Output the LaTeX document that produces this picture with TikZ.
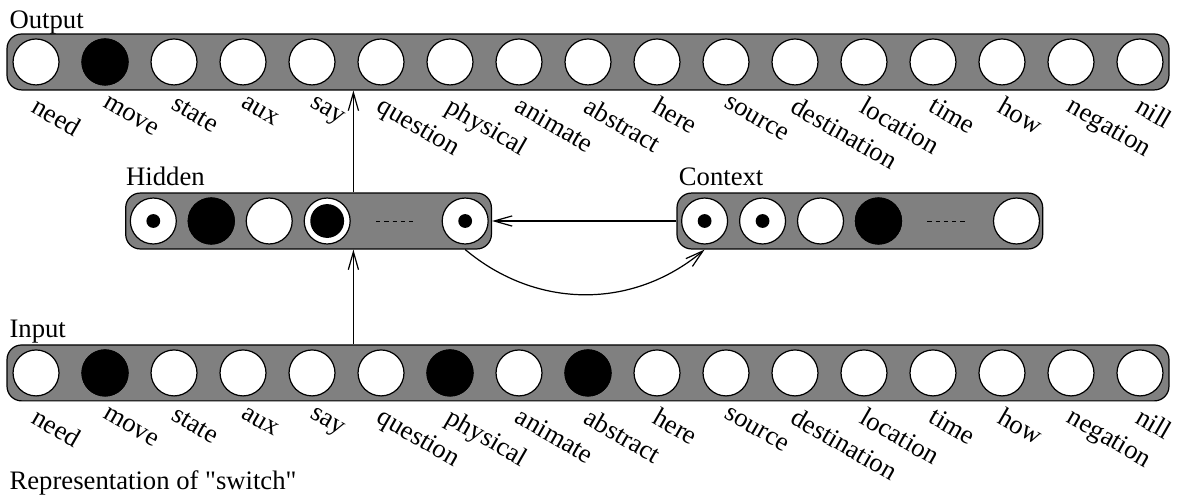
\documentclass[tikz,border=0pt]{standalone}
\usepackage{fontspec}
\setmainfont{Liberation Serif}
\usetikzlibrary{arrows.meta}
\def\words{need,move,state,aux,say,question,physical,animate,abstract,here,source,destination,location,time,how,negation,nill}
\def\QT{\XeTeXglyph\XeTeXcharglyph"22\relax}
\def\DOT#1{\fill (#1) circle (0.1);}
\def\RING#1{\fill (#1) circle (0.245);}
\def\DASHES#1#2{\draw [dash pattern=on 1.7pt off 1.7pt] (#1,#2) -- +(0.59,0);}
\tikzset{
  every node/.style={font=\fontsize{11}{13}\selectfont},
  layer/.style={draw,fill=gray,rounded corners=6pt,line width=0.5pt,minimum height=0.81cm,inner sep=0pt},
  cell/.style={circle,draw,fill=white,line width=0.5pt,minimum size=0.666cm,inner sep=0pt},
  full/.style={cell,fill=black},
  word/.style={anchor=north west,rotate=-30,inner sep=0pt},
  title/.style={anchor=base west,inner sep=0pt},
  arr/.style={-{Straight Barb[length=7.4pt,width=4.2pt]},line width=0.5pt}
}
\begin{document}
\begin{tikzpicture}
  \useasboundingbox (-0.522,0) rectangle (16.725,7.217);
  % output layer
  \node[layer,minimum width=16.84cm] (out) at (8,6.319) {};
  \node[title] (outname) at (-0.39,6.81) {Output};
  \foreach \w [count=\i from 0] in \words {
    \node[cell] (o\i) at (\i,6.319) {};
    \node[word] (ow\i) at (\i+0.05,5.84) {\w};
  }
  \node[full] at (o1) {};
  % input layer
  \node[layer,minimum width=16.84cm] (inp) at (8,1.812) {};
  \node[title] (inpname) at (-0.39,2.319) {Input};
  \foreach \w [count=\i from 0] in \words {
    \node[cell] (i\i) at (\i,1.812) {};
    \node[word] (iw\i) at (\i+0.05,1.335) {\w};
  }
  \foreach \i in {1,6,8} \node[full] at (i\i) {};
  \node[title] (caption) at (-0.39,0.116) {Representation of \QT switch\QT};
  % hidden layer
  \node[layer,minimum width=5.30cm] (hid) at (3.95,4.014) {};
  \node[title] (hidname) at (1.30,4.522) {Hidden};
  \foreach \k in {0,...,3} \node[cell] (h\k) at (1.70+0.84*\k,4.014) {};
  \node[cell] (h4) at (6.22,4.014) {};
  \node[full] at (h1) {};
  \DOT{h0} \RING{h3} \DOT{h4}
  \DASHES{4.93}{4.014}
  % context layer
  \node[layer,minimum width=5.30cm] (ctx) at (11.94,4.014) {};
  \node[title] (ctxname) at (9.31,4.522) {Context};
  \foreach \k in {0,...,3} \node[cell] (c\k) at (9.69+0.84*\k,4.014) {};
  \node[cell] (c4) at (14.21,4.014) {};
  \node[full] at (c3) {};
  \DOT{c0} \DOT{c1}
  \DASHES{12.92}{4.014}
  % connections
  \coordinate (tap) at (4.6,0);
  \draw[arr] (inp.north -| tap) -- (hid.south -| tap);
  \draw[arr] (hid.north -| tap) -- (out.south -| tap);
  \draw[arr] (ctx.west) -- (hid.east);
  \draw[arr] (h4 |- hid.south) to[out=-40,in=-140] (c0 |- ctx.south);
\end{tikzpicture}
\end{document}
